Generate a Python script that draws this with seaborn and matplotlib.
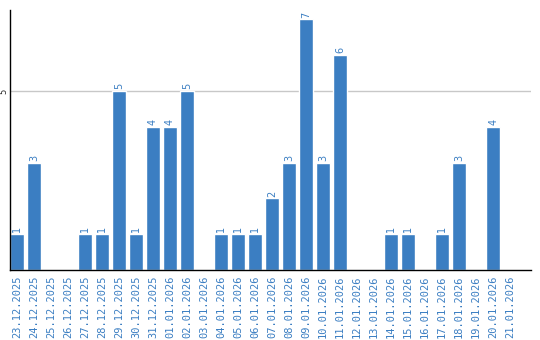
import matplotlib
matplotlib.use("Agg")
import matplotlib.pyplot as plt
import seaborn as sns
import pandas as pd

dates = ["23.12.2025", "24.12.2025", "25.12.2025", "26.12.2025", "27.12.2025",
         "28.12.2025", "29.12.2025", "30.12.2025", "31.12.2025", "01.01.2026",
         "02.01.2026", "03.01.2026", "04.01.2026", "05.01.2026", "06.01.2026",
         "07.01.2026", "08.01.2026", "09.01.2026", "10.01.2026", "11.01.2026",
         "12.01.2026", "13.01.2026", "14.01.2026", "15.01.2026", "16.01.2026",
         "17.01.2026", "18.01.2026", "19.01.2026", "20.01.2026", "21.01.2026"]
values = [1, 3, 0, 0, 1, 1, 5, 1, 4, 4, 5, 0, 1, 1, 1, 2, 3, 7, 3, 6,
          0, 0, 1, 1, 0, 1, 3, 0, 4, 0]

df = pd.DataFrame({"date": dates, "value": values})

sns.set_style("white")
plt.rcParams['font.family'] = ['DejaVu Sans']

fig = plt.figure(figsize=(5.4, 3.4), dpi=100)
ax = fig.add_axes([10/540, 70/340, 520.5/540, 260/340])

blue = "#3b7ec2"
sns.barplot(data=df, x="date", y="value", color=blue, saturation=1,
            width=0.82, ax=ax)

ax.set_xlim(-0.41, 30.2)
ax.set_ylim(0, 7.26)
ax.set_yticks([5])
ax.set_yticklabels(["5"], rotation=90, va="center", fontsize=6)
ax.yaxis.grid(True, color="#c8c8c8", linewidth=1)
ax.set_axisbelow(True)
ax.tick_params(axis="y", length=0, pad=1.5)
ax.tick_params(axis="x", length=0, pad=4)
ax.set_xticks(range(len(dates)))
ax.set_xticklabels(dates, rotation=90, color=blue, fontsize=7.5,
                   family="DejaVu Sans Mono")
ax.set_xlabel("")
ax.set_ylabel("")

for s in ["top", "right"]:
    ax.spines[s].set_visible(False)
for s in ["left", "bottom"]:
    ax.spines[s].set_color("black")
    ax.spines[s].set_linewidth(1)

for i, v in enumerate(values):
    if v > 0:
        ax.text(i, v + 0.05, str(v), rotation=90, ha="center", va="bottom",
                color=blue, fontsize=7)

fig.savefig("out.png", dpi=100)
